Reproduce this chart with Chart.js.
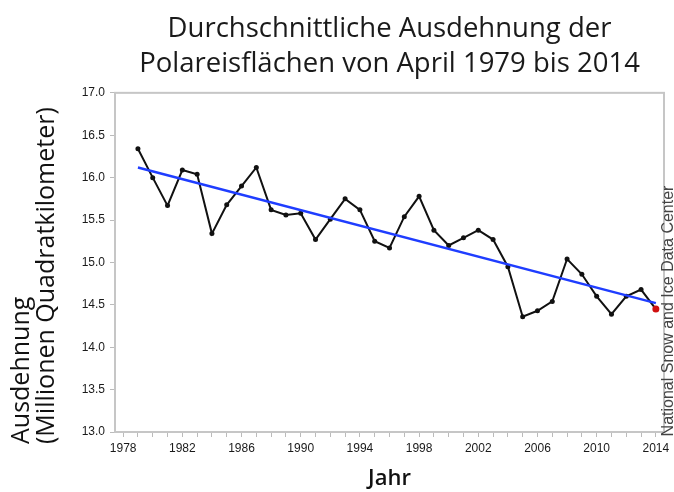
<!DOCTYPE html>
<html>
<head>
<meta charset="utf-8">
<script src="https://cdn.jsdelivr.net/npm/chart.js@4"></script>
<style>
  html, body { margin: 0; padding: 0; background: #fff; }
  #wrap { width: 674px; height: 492px; }
</style>
</head>
<body>
<div id="wrap"><canvas id="chart" width="674" height="492"></canvas></div>
<script>
// Data
const years = [1979, 1980, 1981, 1982, 1983, 1984, 1985, 1986, 1987, 1988,
  1989, 1990, 1991, 1992, 1993, 1994, 1995, 1996, 1997, 1998,
  1999, 2000, 2001, 2002, 2003, 2004, 2005, 2006, 2007, 2008,
  2009, 2010, 2011, 2012, 2013, 2014];
const extent = [16.34, 16.00, 15.67, 16.09, 16.04, 15.34, 15.68, 15.90, 16.12, 15.62,
  15.56, 15.58, 15.27, 15.51, 15.75, 15.62, 15.25, 15.17, 15.54, 15.78,
  15.38, 15.20, 15.29, 15.38, 15.27, 14.95, 14.36, 14.43, 14.54, 15.04,
  14.86, 14.60, 14.39, 14.60, 14.68, 14.45];
const trendYears = [1979, 2014];
const trendValues = [16.12, 14.52];
const xLabelYears = [1978, 1982, 1986, 1990, 1994, 1998, 2002, 2006, 2010, 2014];
const titleLines = ['Durchschnittliche Ausdehnung der', 'Polareisflächen von April 1979 bis 2014'];
const yTitleLines = ['Ausdehnung', '(Millionen Quadratkilometer)'];
const sourceText = 'National Snow and Ice Data Center';

// minor tick every year along the x axis
const xTickYears = [];
for (let y = xLabelYears[0]; y <= xLabelYears[xLabelYears.length - 1]; y++) xTickYears.push(y);

const lastIdx = years.length - 1;

// frame around plot, y axis title (bottom aligned) and source text on the right
const framePlugin = {
  id: 'frame',
  beforeDatasetsDraw(chart) {
    const { ctx, chartArea: a } = chart;
    ctx.save();
    ctx.strokeStyle = '#c6c6c6';
    ctx.lineWidth = 2;
    ctx.strokeRect(a.left, a.top, a.right - a.left, a.bottom - a.top);
    ctx.restore();
  },
  afterDraw(chart) {
    const { ctx, chartArea: a } = chart;
    ctx.save();
    ctx.fillStyle = '#111';
    ctx.font = '25px "Open Sans", sans-serif';
    ctx.textAlign = 'left';
    ctx.textBaseline = 'middle';
    yTitleLines.forEach((line, i) => {
      ctx.save();
      ctx.translate(22 + i * 25, a.bottom + 12);
      ctx.rotate(-Math.PI / 2);
      ctx.fillText(line, 0, 0);
      ctx.restore();
    });

    ctx.translate(a.right + 5, 311);
    ctx.rotate(-Math.PI / 2);
    ctx.font = '16px "Liberation Sans", Arial, sans-serif';
    ctx.fillStyle = '#444';
    ctx.textAlign = 'center';
    ctx.fillText(sourceText, 0, 0);
    ctx.restore();
  }
};

new Chart(document.getElementById('chart'), {
  type: 'line',
  data: {
    datasets: [
      {
        label: 'Ausdehnung',
        data: years.map((y, i) => ({ x: y, y: extent[i] })),
        borderColor: '#111',
        borderWidth: 2,
        pointRadius: 2.5,
        pointBackgroundColor: '#111',
        pointBorderWidth: 0,
        tension: 0,
        order: 3
      },
      {
        label: 'Trend',
        data: trendYears.map((y, i) => ({ x: y, y: trendValues[i] })),
        borderColor: '#1f3dff',
        borderWidth: 2.5,
        pointRadius: 0,
        order: 2
      },
      {
        label: '2014',
        data: [{ x: years[lastIdx], y: extent[lastIdx] }],
        pointRadius: 3.5,
        pointBackgroundColor: '#d01010',
        pointBorderWidth: 0,
        showLine: false,
        order: 1
      }
    ]
  },
  options: {
    responsive: false,
    animation: false,
    layout: { padding: { left: 0, right: 10, top: 0, bottom: 0 } },
    plugins: {
      legend: { display: false },
      tooltip: { enabled: false },
      title: {
        display: true,
        text: titleLines,
        fullSize: false,
        color: '#1a1a1a',
        font: { family: '"Open Sans", sans-serif', size: 27.5, weight: '400', lineHeight: 1.27 },
        padding: { top: 12, bottom: 11 }
      }
    },
    scales: {
      x: {
        type: 'linear',
        min: 1977.45,
        max: 2014.55,
        afterBuildTicks: scale => { scale.ticks = xTickYears.map(v => ({ value: v })); },
        afterFit: scale => { scale.height = 60; },
        ticks: {
          autoSkip: false,
          maxRotation: 0,
          padding: 4,
          color: '#1a1a1a',
          font: { family: '"Liberation Sans", Arial, sans-serif', size: 12 },
          callback: v => xLabelYears.includes(v) ? String(v) : ''
        },
        grid: { drawOnChartArea: false, drawTicks: true, tickLength: 5, color: '#bbb' },
        border: { display: false },
        title: {
          display: true,
          text: 'Jahr',
          color: '#111',
          font: { family: '"Open Sans", sans-serif', size: 22, weight: '600', lineHeight: 1.2 },
          padding: { top: 0, bottom: 0 }
        }
      },
      y: {
        min: 13,
        max: 17,
        afterFit: scale => { scale.width = 115; },
        ticks: {
          stepSize: 0.5,
          padding: 5,
          color: '#1a1a1a',
          font: { family: '"Liberation Sans", Arial, sans-serif', size: 12 },
          callback: v => v.toFixed(1)
        },
        grid: { drawOnChartArea: false, drawTicks: true, tickLength: 5, color: '#bbb' },
        border: { display: false }
      }
    }
  },
  plugins: [framePlugin]
});
</script>
</body>
</html>
